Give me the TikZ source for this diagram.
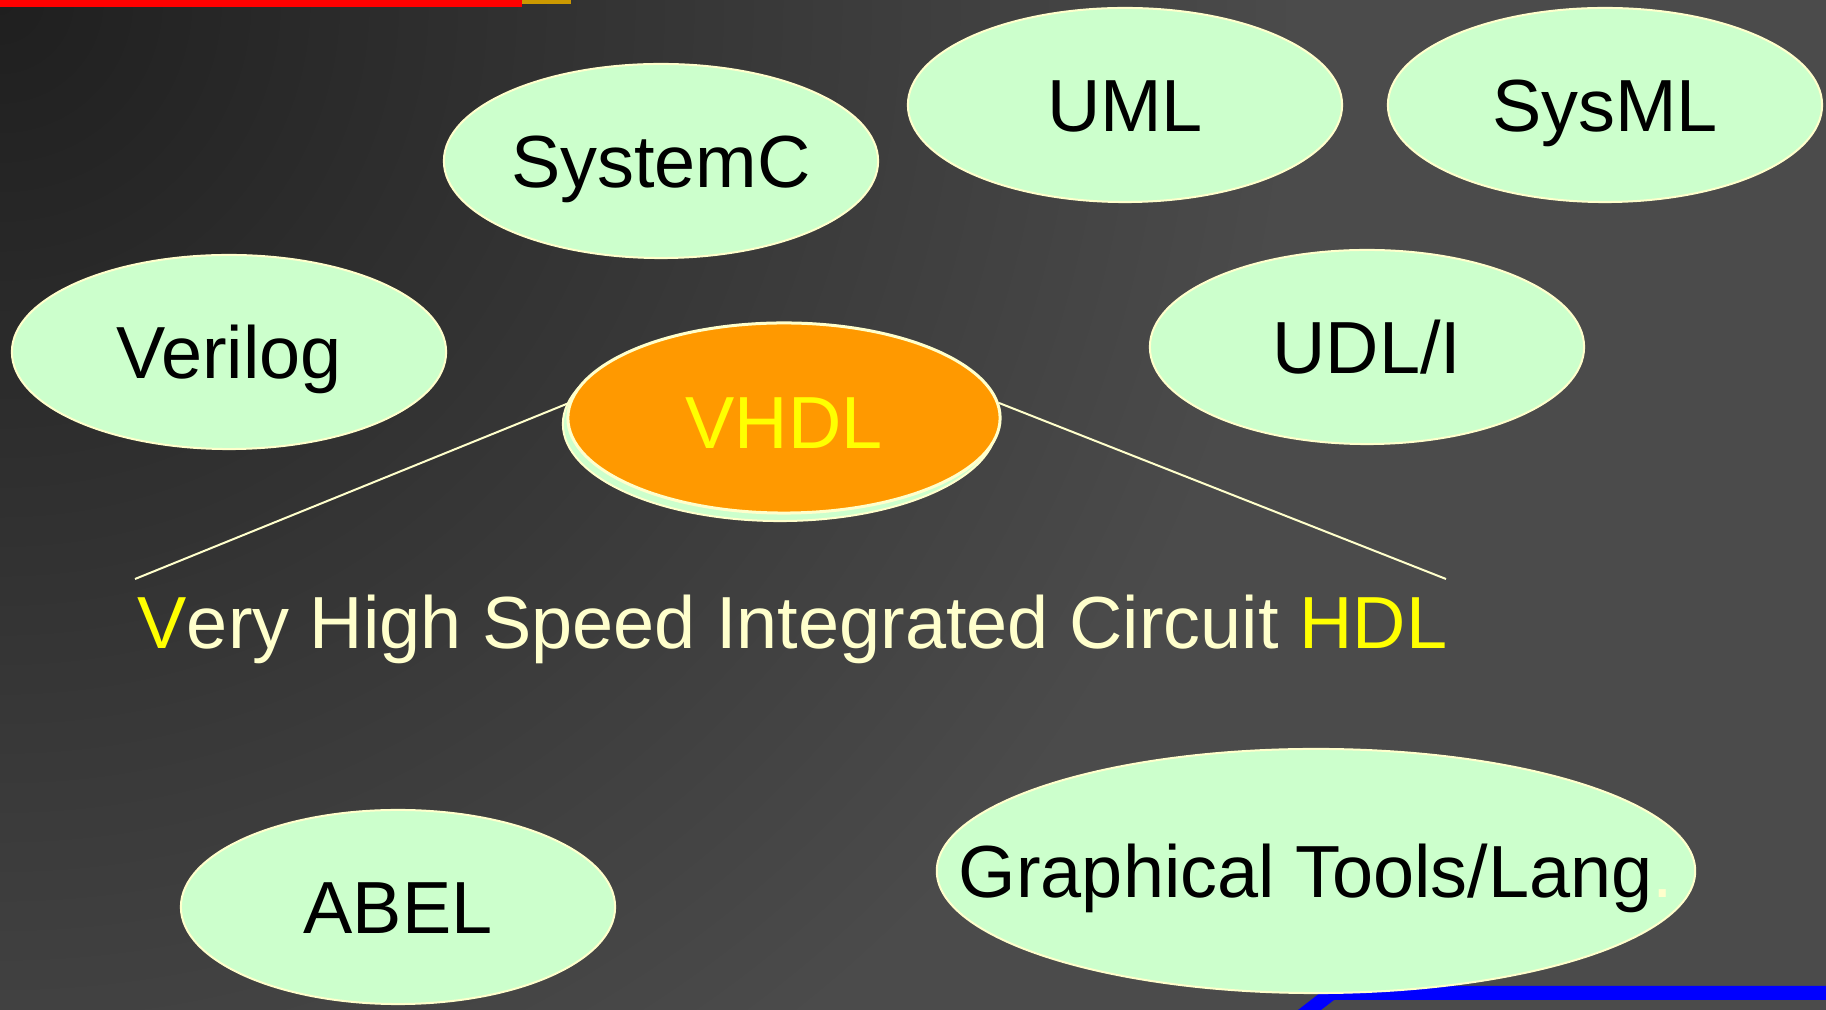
\documentclass[tikz,border=0pt]{standalone}
\usepackage{fontspec}
\setmainfont{Liberation Sans}
\usepackage{tikz}
\usetikzlibrary{shapes.geometric}

\definecolor{mint}{HTML}{CCFFCC}
\definecolor{cream}{HTML}{FFFFCC}
\definecolor{hdlorange}{HTML}{FF9900}
\definecolor{hdlyellow}{HTML}{FFFF00}
\definecolor{bargold}{HTML}{CC9900}
\definecolor{slate}{HTML}{4B4B4B}
\definecolor{slatedark}{HTML}{1F1F1F}

\begin{document}
\begin{tikzpicture}[x=0.01cm, y=-0.01cm,
    lang/.style={draw=cream, line width=0.02cm, fill=mint, ellipse, inner sep=0pt,
                 minimum width=4.34cm, minimum height=1.94cm, text height=0.53cm, text depth=0pt,
                 font=\fontsize{21}{24}\selectfont}]

\useasboundingbox (0,0) rectangle (1826,1010);
\begin{scope}
  \clip (0,0) rectangle (1826,1010);
  \fill  [slate] (0,0) rectangle (1826,1010);
  \shade [inner color=slatedark, outer color=slate] (0,0) circle (1300);
\end{scope}

\fill [red     ] (0  ,0) rectangle (522,7.5);
\fill [bargold ] (522,0) rectangle (571,4.5);
\fill [blue    ] (1298,1010) -- (1329,986) -- (1826,986) -- (1826,1000) -- (1334,1000) -- (1321,1010) -- cycle;

\node [lang                    ] (sysc)   at (661 ,161) {SystemC};
\node [lang                    ] (uml)    at (1125,105) {UML};
\node [lang                    ] (sysml)  at (1605,105) {SysML};
\node [lang                    ] (verilog)at (229 ,352) {Verilog};
\node [lang                    ] (udl)    at (1367,347) {UDL/I};
\node [lang                    ] (abel)   at (398 ,907) {ABEL};
\node [lang, inner xsep=-1.5cm, minimum width=7.58cm, minimum height=2.44cm] (graph) at (1316,871)
      {Graphical Tools/Lang\textcolor{cream}{.}};

\node [lang                    ] (vhdlbk) at (780 ,424) {};
\node [lang, fill=hdlorange, text=hdlyellow, line width=0.03cm, text height=0.61cm,
       minimum width=4.32cm, minimum height=1.9cm] (vhdl) at (784,418) {VHDL};

\coordinate (lend) at (135 ,579);
\coordinate (rend) at (1446,579);

\path [draw=cream, line width=0.02cm] (vhdl.176) edge (lend);
\path [draw=cream, line width=0.02cm] (vhdl.4  ) edge (rend);

\node [anchor=base west, inner sep=0pt, text=cream, font=\fontsize{21}{24}\selectfont] (full) at (137,649)
      {\textcolor{hdlyellow}{V}ery High Speed Integrated Circuit \textcolor{hdlyellow}{HDL}};

\end{tikzpicture}
\end{document}
